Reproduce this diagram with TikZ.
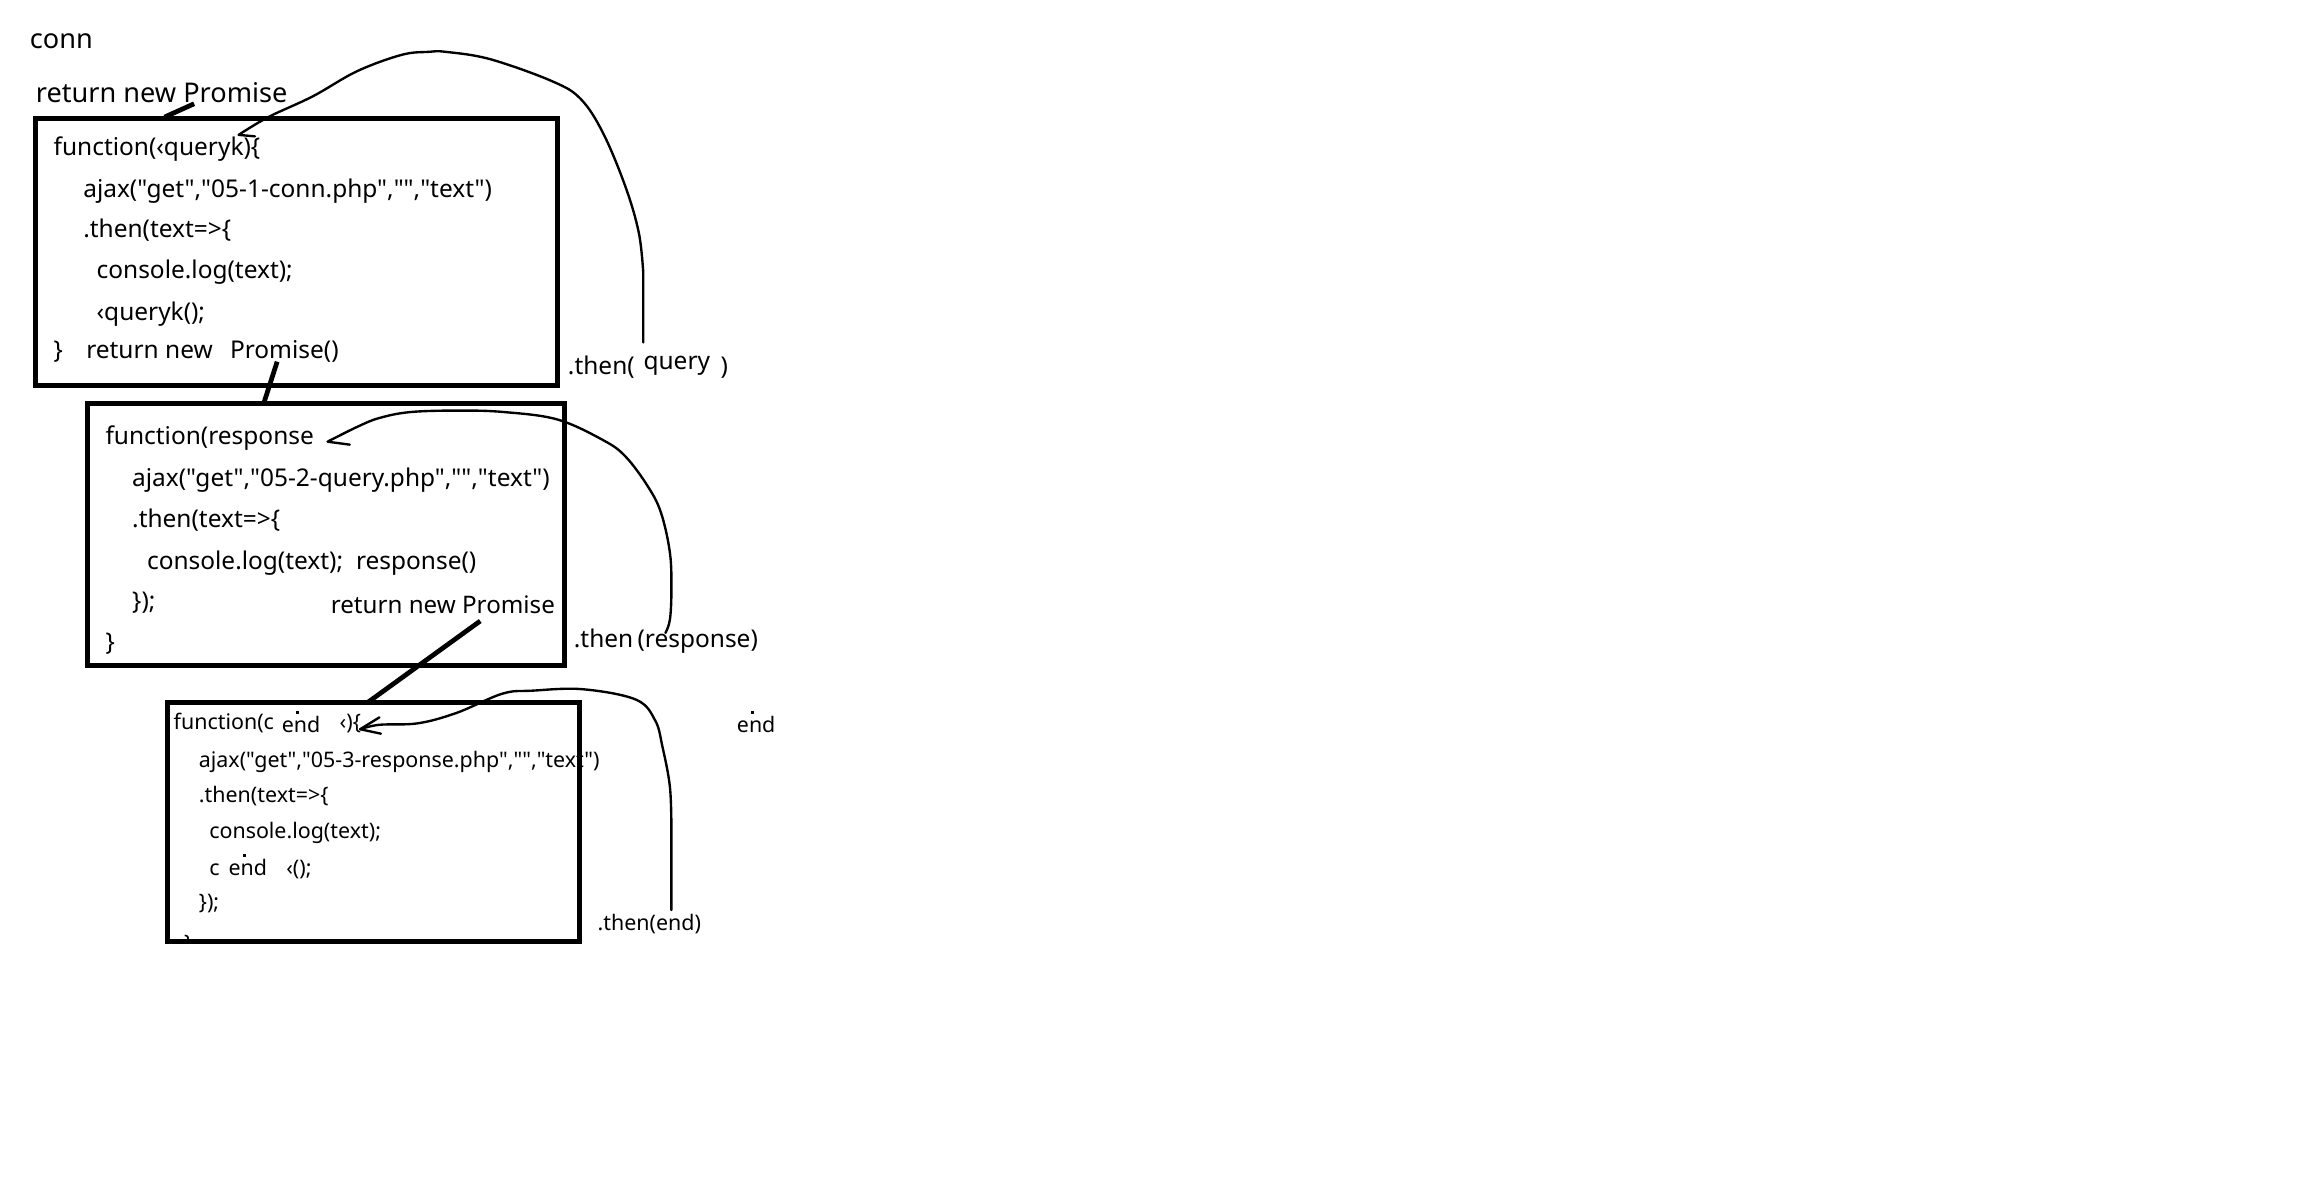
\documentclass[tikz,border=0pt]{standalone}
\usepackage{fontspec}
\setmainfont{Noto Sans}[Ligatures=TeXOff]
\begin{document}
\begin{tikzpicture}[x=1pt,y=-1pt,
  frame/.style={draw, line width=3.2pt, inner sep=0pt, outer sep=0pt, anchor=north west},
  code/.style={anchor=base west, inner sep=0pt, font=\fontsize{16.5}{20}\selectfont},
  small/.style={anchor=base west, inner sep=0pt, font=\fontsize{14.45}{17}\selectfont},
  big/.style={anchor=base west, inner sep=0pt, font=\fontsize{18.3}{22}\selectfont},
  stroke/.style={line width=1.6pt, line cap=round, line join=round},
  bar/.style={line width=3.2pt},
  dot/.style={fill=black, minimum size=2pt, inner sep=0pt}]
\useasboundingbox (0,0) rectangle (1568,804);

% headings
\node[big] (conn) at (20,33) {conn};
\node[big] (ret1) at (24,69) {return new Promise};

% first function
\node[code] (f1a) at (36,105) {function(‹queryk)\{};
\node[code] (f1b) at (56,133) {ajax("get","05-1-conn.php","","text")};
\node[code] (f1c) at (56,160) {.then(text=>\{};
\node[code] (f1d) at (65,188) {console.log(text);};
\node[code] (f1e) at (65,216) {‹queryk();};
\node[code] (f1f) at (36,242) {\}};
\node[code] (f1g) at (58,242) {return new};
\node[code] (f1h) at (155,242) {Promise()};
\node[code] (then1) at (383,252.5) {.then(};
\node[code] (q1) at (434,249) {query};
\node[code] (then1r) at (486,252.5) {)};

% second function
\node[code] (f2a) at (71,300) {function(response};
\node[code] (f2b) at (89,328) {ajax("get","05-2-query.php","","text")};
\node[code] (f2c) at (89,356) {.then(text=>\{};
\node[code] (f2d) at (99,384) {console.log(text);};
\node[code] (f2d2) at (240,384) {response()};
\node[code] (f2e) at (89,411) {\});};
\node[code, font=\fontsize{16.3}{20}\selectfont] (ret2) at (223,414) {return new Promise};
\node[code] (f2f) at (71,439) {\}};
\node[code] (then2) at (387,437) {.then};
\node[code] (then2r) at (430,437) {(response)};

% third function
\node[small] (f3a) at (117,492.5) {function(c};
\node[small] (f3a2) at (190,494.5) {end};
\node[small] (f3a3) at (229,492.5) {‹)\{};
\node[small] (f3b) at (134,517.5) {ajax("get","05-3-response.php","","text")};
\node[small] (f3c) at (134,541.5) {.then(text=>\{};
\node[small] (f3d) at (141,565.5) {console.log(text);};
\node[small] (f3e) at (141,590.5) {c};
\node[small] (f3e2) at (154,590.5) {end};
\node[small] (f3e3) at (193,590.5) {‹();};
\node[small] (f3f) at (134,613.5) {\});};
\begin{scope}
  \clip (113,474) rectangle (391,636);
  \node[small] (f3g) at (124,641) {\}};
\end{scope}
\node[small] (then3) at (403,627.5) {.then(end)};
\node[small] (end) at (497,494.5) {end};
\node[dot] (d1) at (200.5,481) {};
\node[dot] (d2) at (164.7,577) {};
\node[dot] (d3) at (507.5,481) {};

% frames
\node[frame, minimum width=352pt, minimum height=180pt] (box1) at (24,80) {};
\node[frame, minimum width=322pt, minimum height=177pt] (box2) at (59,272) {};
\node[frame, minimum width=278pt, minimum height=161pt] (box3) at (113,474) {};

% links from the labels to the frames
\coordinate (l1a) at (131,70);
\coordinate (l1b) at (111,79);
\draw[bar] (l1a) -- (l1b);
\coordinate (l2a) at (187,244);
\coordinate (l2b) at (178,272);
\draw[bar] (l2a) -- (l2b);
\coordinate (l3a) at (324,419);
\coordinate (l3b) at (248,474);
\draw[bar] (l3a) -- (l3b);

% callbacks
\coordinate (t1) at (161,91);
\coordinate (s1) at (434,231);
\draw[stroke] (s1) -- (434,184) plot[smooth, tension=0.6] coordinates {(434,184) (431,157) (422,126) (407,90) (392,67) (373,55) (331,40) (301,35) (289,35) (271,37) (241,48) (211,65) (181,79) (161,91)} -- (172,92);

\coordinate (t2) at (221,298);
\coordinate (s2) at (449,427);
\draw[stroke] plot[smooth, tension=0.6] coordinates {(449,427) (452,418) (453,398) (452,373) (446,346) (437,328) (422,308) (407,297) (376,283) (340,278) (310,277) (277,278) (256,282) (241,288) (221,298)} -- (236,300);

\coordinate (t3) at (243,492);
\coordinate (s3) at (453,614);
\draw[stroke] (s3) -- (453,560) plot[smooth, tension=0.6] coordinates {(453,560) (452,531) (447,504) (442,486) (429,472) (393,465) (359,466) (339,468) (308,481) (282,488) (256,489) (243,492)};
\draw[stroke] (256,484) -- (t3) -- (257,495);
\end{tikzpicture}
\end{document}
